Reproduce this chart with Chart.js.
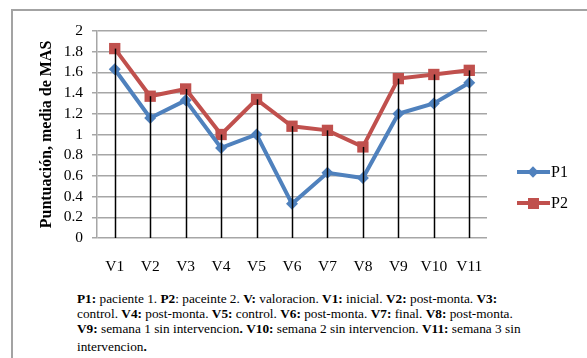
<!DOCTYPE html>
<html>
<head>
<meta charset="utf-8">
<script src="https://cdn.jsdelivr.net/npm/chart.js@4/dist/chart.umd.min.js"></script>
<style>
  html, body { margin: 0; padding: 0; background: #fff; }
  body { width: 587px; height: 358px; position: relative; overflow: hidden; font-family: 'Liberation Serif', serif; }
  #frame { position: absolute; left: 11px; top: 9px; width: 620px; height: 400px; border: 2px solid #a3a3a3; box-sizing: border-box; }
  #wrap { position: absolute; left: 0; top: 0; width: 587px; height: 285px; }
  #legend { position: absolute; left: 517px; top: 0; font-size: 16px; color: #000; }
  .item { position: absolute; left: 0; width: 70px; height: 20px; }
  .line { position: absolute; left: 0; top: 8px; width: 33px; height: 4px; }
  .mk { position: absolute; }
  .lbl { position: absolute; left: 34px; top: 1px; line-height: 18px; }
  #caption { position: absolute; left: 77px; top: 291px; font-size: 13.3px; line-height: 15px; color: #000; white-space: nowrap; }
  #caption b { font-weight: bold; }
</style>
</head>
<body>
<div id="frame"></div>
<div id="wrap"><canvas id="c" width="587" height="285"></canvas></div>
<div id="legend"></div>
<div id="caption">
  <div><b>P1:</b> paciente 1. <b>P2</b>: paceinte 2. <b>V:</b> valoracion. <b>V1:</b> inicial. <b>V2:</b> post-monta. <b>V3:</b></div>
  <div>control. <b>V4:</b> post-monta. <b>V5:</b> control. <b>V6:</b> post-monta. <b>V7:</b> final. <b>V8:</b> post-monta.</div>
  <div><b>V9:</b> semana 1 sin intervencion<b>.</b> <b>V10:</b> semana 2 sin intervencion. <b>V11:</b> semana 3 sin</div>
  <div style="margin-top:3px">intervencion<b>.</b></div>
</div>
<script>
// ---- data ----
const categories = ['V1','V2','V3','V4','V5','V6','V7','V8','V9','V10','V11'];
const seriesNames = ['P1','P2'];
const p1Values = [1.63, 1.16, 1.33, 0.87, 1.00, 0.33, 0.63, 0.58, 1.20, 1.30, 1.50];
const p2Values = [1.83, 1.37, 1.44, 1.00, 1.34, 1.08, 1.04, 0.88, 1.54, 1.58, 1.62];
const yTickLabels = ['0','0.2','0.4','0.6','0.8','1','1.2','1.4','1.6','1.8','2'];
const yTitle = 'Puntuación, media de MAS';

const colP1 = '#4F81BD';
const colP2 = '#C0504D';
const serif = "'Liberation Serif', serif";

// drop lines from highest point to the axis baseline
const dropLines = {
  id: 'dropLines',
  afterDatasetsDraw(chart) {
    const ctx = chart.ctx;
    const y0 = chart.scales.y.getPixelForValue(0);
    const metas = chart.data.datasets.map((d, i) => chart.getDatasetMeta(i));
    ctx.save();
    ctx.strokeStyle = '#000';
    ctx.lineWidth = 1.5;
    for (let i = 0; i < categories.length; i++) {
      let top = Infinity, x = 0;
      metas.forEach(m => { const p = m.data[i]; if (p.y < top) { top = p.y; x = p.x; } });
      ctx.beginPath();
      ctx.moveTo(Math.round(x) + 0.5, top);
      ctx.lineTo(Math.round(x) + 0.5, y0);
      ctx.stroke();
    }
    ctx.restore();
  }
};

const chart = new Chart(document.getElementById('c'), {
  type: 'line',
  data: {
    labels: categories,
    datasets: [
      { label: seriesNames[0], data: p1Values, borderColor: colP1, backgroundColor: colP1,
        borderWidth: 4, pointStyle: 'rectRot', pointRadius: 6, pointBorderWidth: 0, tension: 0 },
      { label: seriesNames[1], data: p2Values, borderColor: colP2, backgroundColor: colP2,
        borderWidth: 4, pointStyle: 'rect', pointRadius: 8, pointBorderWidth: 0, tension: 0 }
    ]
  },
  options: {
    responsive: false,
    animation: false,
    devicePixelRatio: 1,
    layout: { padding: { left: 30, right: 100, top: 31, bottom: 0 } },
    plugins: { legend: { display: false }, tooltip: { enabled: false } },
    scales: {
      x: {
        offset: true,
        grid: { display: false },
        border: { display: false },
        ticks: { color: '#000', font: { family: serif, size: 15.5 }, padding: 12, maxRotation: 0, autoSkip: false },
        afterFit(s) { s.height = 285 - 238; }
      },
      y: {
        min: 0, max: 2,
        ticks: { stepSize: 0.2, autoSkip: false, color: '#000', font: { family: serif, size: 15.5 }, padding: 9,
                 callback: (v, i) => yTickLabels[i] },
        grid: { color: '#a6a6a6', lineWidth: 1.5, tickLength: 5 },
        border: { color: '#a6a6a6', width: 1.5 },
        title: { display: true, text: yTitle, color: '#000', font: { family: serif, size: 16, weight: 'bold' }, padding: { top: 7, bottom: 0 } },
        afterFit(s) { s.width = 97 - 30; }
      }
    }
  },
  plugins: [dropLines]
});

// legend (HTML)
const legend = document.getElementById('legend');
const legendItems = [
  { name: seriesNames[0], color: colP1, top: 162, shape: 'diamond' },
  { name: seriesNames[1], color: colP2, top: 193, shape: 'square' }
];
legendItems.forEach(it => {
  const d = document.createElement('div');
  d.className = 'item';
  d.style.top = it.top + 'px';
  const ln = document.createElement('div');
  ln.className = 'line';
  ln.style.background = it.color;
  const mk = document.createElement('div');
  mk.className = 'mk';
  mk.style.background = it.color;
  if (it.shape === 'diamond') {
    mk.style.width = '8px'; mk.style.height = '8px'; mk.style.left = '12px'; mk.style.top = '6px';
    mk.style.transform = 'rotate(45deg)';
  } else {
    mk.style.width = '11px'; mk.style.height = '11px'; mk.style.left = '11px'; mk.style.top = '4.5px';
  }
  const lb = document.createElement('span');
  lb.className = 'lbl';
  lb.textContent = it.name;
  d.appendChild(ln); d.appendChild(mk); d.appendChild(lb);
  legend.appendChild(d);
});
</script>
</body>
</html>
